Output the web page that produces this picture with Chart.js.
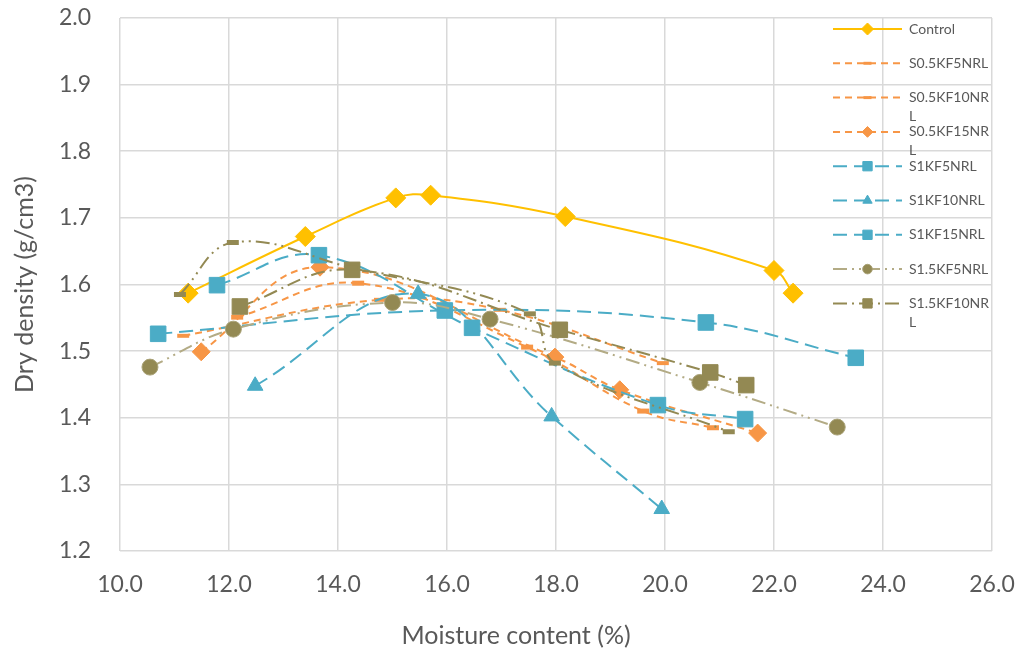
<!DOCTYPE html>
<html>
<head>
<meta charset="utf-8">
<script src="https://cdn.jsdelivr.net/npm/chart.js@4.4.1/dist/chart.umd.min.js"></script>
<style>
  html, body { margin: 0; padding: 0; background: #fff; }
</style>
</head>
<body>
<canvas id="chart" width="1023" height="653"></canvas>
<script>
// values (moisture content %, dry density g/cm3)
const controlX = [11.25, 13.4, 15.06, 15.7, 18.17, 22.0, 22.35];
const controlY = [1.587, 1.672, 1.730, 1.734, 1.702, 1.621, 1.587];

const s05kf5X = [11.16, 14.77, 16.97, 19.96];
const s05kf5Y = [1.523, 1.577, 1.562, 1.482];

const s05kf10X = [12.15, 14.37, 17.47, 19.6, 20.88];
const s05kf10Y = [1.551, 1.602, 1.506, 1.410, 1.385];

const s05kf15X = [11.49, 13.67, 17.98, 19.17, 21.7];
const s05kf15Y = [1.499, 1.626, 1.491, 1.442, 1.377];

const s1kf5X = [10.7, 15.96, 20.75, 23.5];
const s1kf5Y = [1.526, 1.561, 1.543, 1.490];

const s1kf10X = [12.48, 15.47, 17.92, 19.94];
const s1kf10Y = [1.448, 1.586, 1.402, 1.263];

const s1kf15X = [11.78, 13.65, 16.46, 19.87, 21.47];
const s1kf15Y = [1.599, 1.644, 1.535, 1.419, 1.398];

const s15kf5X = [10.55, 12.08, 15.0, 16.79, 20.64, 23.16];
const s15kf5Y = [1.476, 1.533, 1.573, 1.548, 1.453, 1.386];

const s15kf10X = [12.2, 14.26, 18.07, 20.83, 21.49];
const s15kf10Y = [1.567, 1.622, 1.532, 1.468, 1.449];

// tenth series, its legend entry is cut off in the original
const s15kf15X = [11.1, 12.07, 14.25, 17.52, 17.98, 21.17];
const s15kf15Y = [1.585, 1.663, 1.625, 1.556, 1.482, 1.379];

const xMin = 10, xMax = 26, xStep = 2;
const yMin = 1.2, yMax = 2.0, yStep = 0.1;
const xTitle = 'Moisture content (%)';
const yTitle = 'Dry density (g/cm3)';

const toPoints = (xs, ys) => xs.map((x, i) => ({ x: x, y: ys[i] }));

const GOLD = '#FFC000';
const ORANGE = '#F79646';
const BLUE = '#4BACC6';
const OLIVE = '#938953';
const TAN = '#B3AB85';
const TEXT = '#595959';
const FONT = 'Lato, "Liberation Sans", sans-serif';

const dash = [7, 5];
const longDash = [14, 7];
const longDashDot = [14, 5, 2, 5];
const longDashDotDot = [14, 5, 2, 5, 2, 5];

function series(label, xs, ys, color, pointColor, borderDash, pointStyle, radius, extra) {
  return Object.assign({
    label: label,
    data: toPoints(xs, ys),
    showLine: true,
    borderColor: color,
    backgroundColor: pointColor,
    borderWidth: 2,
    borderDash: borderDash,
    tension: 0.4,
    pointStyle: pointStyle,
    pointRadius: radius,
    pointBackgroundColor: pointColor,
    pointBorderColor: pointColor,
    pointBorderWidth: 1,
    pointHoverRadius: radius
  }, extra || {});
}

const datasets = [
  series('Control', controlX, controlY, GOLD, GOLD, [], 'rectRot', 10),
  series('S0.5KF5NRL', s05kf5X, s05kf5Y, ORANGE, ORANGE, dash, 'line', 6, { pointBorderWidth: 4 }),
  series('S0.5KF10NRL', s05kf10X, s05kf10Y, ORANGE, ORANGE, dash, 'line', 6, { pointBorderWidth: 5 }),
  series('S0.5KF15NRL', s05kf15X, s05kf15Y, ORANGE, ORANGE, dash, 'rectRot', 9),
  series('S1KF5NRL', s1kf5X, s1kf5Y, BLUE, BLUE, longDash, 'rect', 11),
  series('S1KF10NRL', s1kf10X, s1kf10Y, BLUE, BLUE, longDash, 'triangle', 9),
  series('S1KF15NRL', s1kf15X, s1kf15Y, BLUE, BLUE, longDash, 'rect', 11),
  series('S1.5KF5NRL', s15kf5X, s15kf5Y, TAN, OLIVE, longDashDotDot, 'circle', 8, { pointBorderColor: '#A9A277' }),
  series('S1.5KF10NRL', s15kf10X, s15kf10Y, OLIVE, OLIVE, longDashDot, 'rect', 11),
  series('S1.5KF15NRL', s15kf15X, s15kf15Y, OLIVE, OLIVE, longDashDotDot, 'line', 6, { pointBorderWidth: 5, hideInLegend: true })
];
// later series sit on top, like the spreadsheet
datasets.forEach((ds, i) => { ds.order = datasets.length - i; });

// legend drawn inside the plot area, wrapping long names the way the original does
const boxLegend = {
  id: 'boxLegend',
  afterDraw(chart) {
    const { ctx, chartArea } = chart;
    const lineX0 = chartArea.right - 159;
    const lineX1 = chartArea.right - 90;
    const markX = (lineX0 + lineX1) / 2;
    const textX = chartArea.right - 83;
    ctx.save();
    ctx.font = '14px ' + FONT;
    const maxW = ctx.measureText('S0.5KF5NRL').width + 2;
    chart.data.datasets.forEach((ds, i) => {
      if (ds.hideInLegend) return;
      const y = chartArea.top + 11 + i * 34.3;
      ctx.strokeStyle = ds.borderColor;
      ctx.lineWidth = 2;
      ctx.setLineDash(ds.borderDash);
      ctx.beginPath();
      ctx.moveTo(lineX0, y);
      ctx.lineTo(lineX1, y);
      ctx.stroke();
      ctx.setLineDash([]);
      ctx.fillStyle = ds.pointBackgroundColor;
      ctx.strokeStyle = ds.pointBorderColor;
      ctx.lineWidth = ds.pointStyle === 'line' ? 3 : 1;
      Chart.helpers.drawPoint(ctx, {
        pointStyle: ds.pointStyle,
        radius: ds.pointStyle === 'line' ? 4 : ds.pointRadius * 0.6,
        rotation: 0,
        borderWidth: ctx.lineWidth
      }, markX, y);
      ctx.fillStyle = TEXT;
      ctx.textBaseline = 'middle';
      let first = ds.label;
      let rest = '';
      while (ctx.measureText(first).width > maxW) {
        rest = first.slice(-1) + rest;
        first = first.slice(0, -1);
      }
      ctx.fillText(first, textX, y);
      if (rest) ctx.fillText(rest, textX, y + 19);
    });

    // x axis title sits left of the plot centre in the original
    ctx.font = '25px ' + FONT;
    ctx.textAlign = 'center';
    ctx.textBaseline = 'middle';
    ctx.fillText(xTitle, chartArea.left + 396, chart.height - 17);
    ctx.restore();
  }
};

new Chart(document.getElementById('chart'), {
  type: 'scatter',
  data: { datasets: datasets },
  plugins: [boxLegend],
  options: {
    responsive: false,
    animation: false,
    layout: { padding: { top: 18, right: 31, left: 0, bottom: 0 } },
    plugins: {
      legend: { display: false },
      tooltip: { enabled: false }
    },
    scales: {
      x: {
        type: 'linear',
        min: xMin,
        max: xMax,
        afterFit: (s) => { s.height = 102; s.paddingLeft = 0; s.paddingRight = 0; },
        grid: { color: '#D9D9D9', lineWidth: 1.5, drawTicks: false },
        border: { display: false },
        ticks: {
          stepSize: xStep,
          padding: 20,
          color: TEXT,
          font: { family: FONT, size: 23 },
          callback: (v) => Number(v).toFixed(1)
        },
        title: { display: false }
      },
      y: {
        type: 'linear',
        min: yMin,
        max: yMax,
        afterFit: (s) => { s.width = 120; s.paddingTop = 0; s.paddingBottom = 0; },
        grid: { color: '#D9D9D9', lineWidth: 1.5, drawTicks: false },
        border: { display: false },
        ticks: {
          stepSize: yStep,
          padding: 29,
          color: TEXT,
          font: { family: FONT, size: 23 },
          callback: (v) => Number(v).toFixed(1)
        },
        title: {
          display: true,
          text: yTitle,
          color: TEXT,
          font: { family: FONT, size: 25 },
          padding: { top: 10, bottom: 0 }
        }
      }
    }
  }
});
</script>
</body>
</html>
